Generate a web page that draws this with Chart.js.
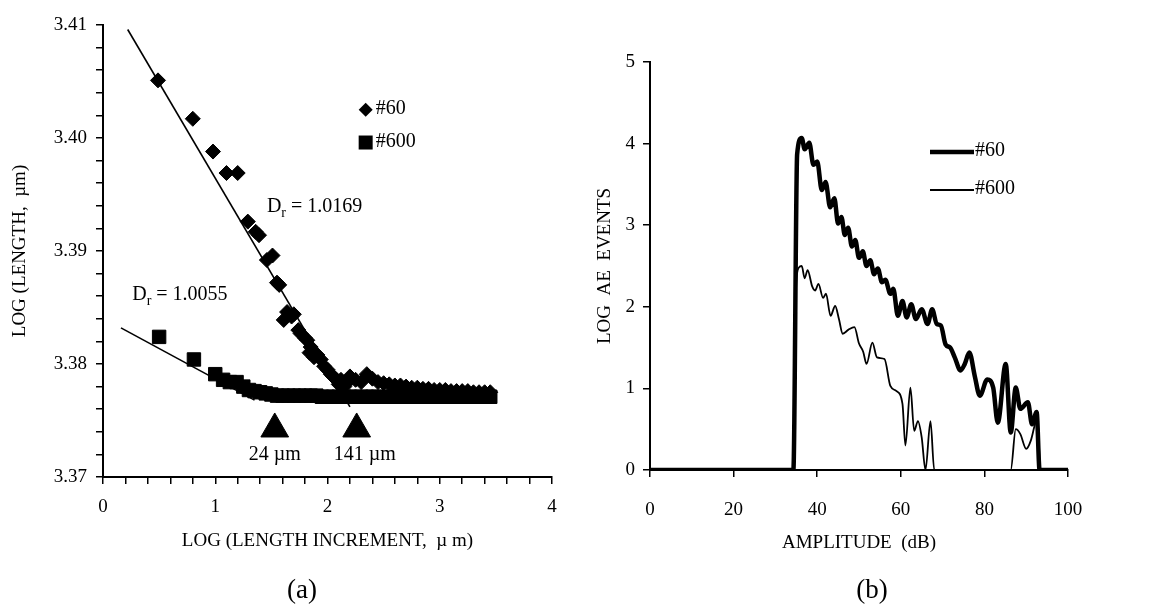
<!DOCTYPE html>
<html>
<head>
<meta charset="utf-8">
<title>Length fractal and AE amplitude</title>
<script src="https://cdn.jsdelivr.net/npm/chart.js@4.4.1/dist/chart.umd.min.js"></script>
<style>
  html, body { margin: 0; padding: 0; background: #fff; }
  #wrap { position: relative; width: 1149px; height: 605px; }
  canvas { position: absolute; top: 0; }
  #chartA { left: 0; }
  #chartB { left: 575px; }
</style>
</head>
<body>
<div id="wrap">
  <canvas id="chartA" width="575" height="605"></canvas>
  <canvas id="chartB" width="574" height="605"></canvas>
</div>
<script>
// ---- (a) LOG(LENGTH) vs LOG(LENGTH INCREMENT) ----
var incr60 = [0.49, 0.80, 0.98, 1.10, 1.20, 1.29, 1.36, 1.39, 1.46, 1.51, 1.55, 1.57, 1.61, 1.64, 1.68, 1.70,
    1.74, 1.76, 1.80, 1.82, 1.84, 1.85, 1.88, 1.91, 1.94, 1.97, 2.00, 2.03, 2.05, 2.08, 2.10, 2.12, 2.15,
    2.18, 2.20, 2.25, 2.30, 2.35, 2.40, 2.45, 2.50, 2.55, 2.60, 2.65, 2.70, 2.75, 2.80, 2.85, 2.90, 2.95,
    3.00, 3.05, 3.10, 3.15, 3.20, 3.25, 3.30, 3.35, 3.40, 3.45];
var len60 = [3.4051, 3.4017, 3.3988, 3.3969, 3.3969, 3.3926, 3.3917, 3.3914, 3.3892, 3.3896, 3.3872, 3.3870,
    3.3839, 3.3846, 3.3842, 3.3844, 3.3830, 3.3827, 3.3823, 3.3821, 3.3810, 3.3815, 3.3806, 3.3808, 3.3804,
    3.3798, 3.3795, 3.3791, 3.3789, 3.3786, 3.3782, 3.3786, 3.3780, 3.3784, 3.3789, 3.3786, 3.3784, 3.3791,
    3.3787, 3.3784, 3.3783, 3.3782, 3.3781, 3.3781, 3.3780, 3.3779, 3.3779, 3.3778, 3.3778, 3.3777, 3.3777,
    3.3777, 3.3776, 3.3776, 3.3776, 3.3776, 3.3775, 3.3775, 3.3775, 3.3775];

var incr600 = [0.50, 0.81, 1.00, 1.07, 1.13, 1.19, 1.25, 1.30, 1.35, 1.40, 1.45, 1.50, 1.55, 1.60, 1.65, 1.70,
    1.75, 1.80, 1.85, 1.90, 1.95, 2.00, 2.05, 2.10, 2.15, 2.20, 2.25, 2.30, 2.35, 2.40, 2.45, 2.50, 2.55,
    2.60, 2.65, 2.70, 2.75, 2.80, 2.85, 2.90, 2.95, 3.00, 3.05, 3.10, 3.15, 3.20, 3.25, 3.30, 3.35, 3.40, 3.45];
var len600 = [3.3824, 3.3804, 3.3791, 3.3786, 3.3784, 3.3784, 3.3780, 3.3777, 3.3776, 3.3775, 3.3774, 3.3773,
    3.3772, 3.3772, 3.3772, 3.3772, 3.3772, 3.3772, 3.3772, 3.3772, 3.3771, 3.3771, 3.3771, 3.3771, 3.3771,
    3.3771, 3.3771, 3.3771, 3.3771, 3.3771, 3.3771, 3.3771, 3.3771, 3.3771, 3.3771, 3.3771, 3.3771, 3.3771,
    3.3771, 3.3771, 3.3771, 3.3771, 3.3771, 3.3771, 3.3771, 3.3771, 3.3771, 3.3771, 3.3771, 3.3771, 3.3771];

// fitted lines (end points)
var fit60X = [0.22, 2.20];
var fit60Y = [3.4096, 3.3762];
var fit600X = [0.16, 1.35];
var fit600Y = [3.3832, 3.3768];

// arrow heads marking the transition increments
var markX = [1.53, 2.26];
var markY = [3.37425, 3.37425];
var markLabels = ['24 µm', '141 µm'];

var xLabelsA = [0, 1, 2, 3, 4];
var yLabelsA = [3.37, 3.38, 3.39, 3.40, 3.41];

// ---- (b) LOG AE EVENTS vs AMPLITUDE ----
var amp60 = [0, 10, 20, 30, 34.3, 35.2, 36.3, 37.0, 38.1, 39.1, 40.0, 41.1, 42.0, 43.1, 44.1, 45.0, 45.8, 46.6,
    47.4, 48.3, 49.1, 50.0, 50.9, 51.8, 52.7, 53.6, 54.5, 55.5, 56.3, 57.5, 58.2, 59.3, 60.4, 61.4, 62.5,
    63.6, 65.0, 66.4, 67.5, 68.6, 69.6, 70.7, 71.8, 72.9, 74.3, 75.3, 76.4, 77.7, 78.9, 80.7, 82.1, 83.2,
    85.1, 86.3, 87.5, 88.6, 90.4, 91.4, 92.5, 93.2, 100];
var ae60 = [0, 0, 0, 0, 0, 3.87, 4.07, 3.93, 4.01, 3.74, 3.78, 3.43, 3.53, 3.22, 3.33, 3.02, 3.10, 2.88,
    2.97, 2.74, 2.82, 2.60, 2.68, 2.50, 2.57, 2.40, 2.47, 2.30, 2.33, 2.16, 2.22, 1.89, 2.07, 1.87, 2.03,
    1.85, 1.97, 1.79, 1.97, 1.79, 1.77, 1.54, 1.50, 1.38, 1.22, 1.30, 1.44, 1.15, 0.91, 1.11, 1.01, 0.58,
    1.30, 0.46, 1.01, 0.75, 0.83, 0.56, 0.71, 0, 0];

var amp600 = [0, 10, 20, 30, 34.3, 35.0, 35.6, 36.3, 37.0, 37.7, 38.8, 39.5, 40.3, 41.4, 42.1, 43.2, 44.3,
    45.2, 46.1, 47.5, 48.9, 50.0, 51.0, 51.8, 53.2, 54.3, 56.1, 57.5, 58.9, 60.4, 61.1, 62.3, 63.2, 64.1,
    65.0, 65.9, 67.1, 68.0, 75, 80, 86.3, 87.5, 88.6, 90.0, 91.1, 92.1, 92.7, 93.4, 100];
var ae600 = [0, 0, 0, 0, 0, 2.30, 2.48, 2.50, 2.35, 2.45, 2.25, 2.20, 2.28, 2.11, 2.16, 1.89, 2.01,
    1.85, 1.67, 1.72, 1.75, 1.55, 1.45, 1.30, 1.56, 1.38, 1.36, 1.03, 0.97, 0.81, 0.30, 1.01, 0.48, 0.60,
    0.40, 0, 0.60, 0, 0, 0, 0, 0.50, 0.44, 0.26, 0.36, 0.56, 0.64, 0, 0];

var xLabelsB = [0, 20, 40, 60, 80, 100];
var yLabelsB = [0, 1, 2, 3, 4, 5];

var SERIF = "'Liberation Serif', 'Times New Roman', serif";

function pts(xs, ys) {
    return xs.map(function (x, i) { return {x: x, y: ys[i]}; });
}

function labelIn(list, digits) {
    return function (value) {
        for (var i = 0; i < list.length; i++) {
            if (Math.abs(list[i] - value) < 1e-7) return list[i].toFixed(digits);
        }
        return '';
    };
}

function axis(extra) {
    var base = {
        type: 'linear',
        grid: {drawOnChartArea: false, drawTicks: true, tickLength: 7, color: '#000', lineWidth: 1.5},
        border: {display: true, color: '#000', width: 2},
        ticks: {color: '#000', font: {family: SERIF, size: 19}, autoSkip: false, maxRotation: 0}
    };
    for (var k in extra) {
        if (k === 'ticks') {
            for (var t in extra.ticks) base.ticks[t] = extra.ticks[t];
        } else {
            base[k] = extra[k];
        }
    }
    return base;
}

function text(ctx, s, x, y, size, align, rot) {
    ctx.save();
    ctx.fillStyle = '#000';
    ctx.font = size + 'px ' + SERIF;
    ctx.textAlign = align || 'center';
    ctx.textBaseline = 'middle';
    ctx.translate(x, y);
    if (rot) ctx.rotate(rot);
    ctx.fillText(s, 0, 0);
    ctx.restore();
}

function drawDr(ctx, x, y, value) {
    ctx.save();
    ctx.fillStyle = '#000';
    ctx.textAlign = 'left';
    ctx.textBaseline = 'middle';
    ctx.font = '20px ' + SERIF;
    ctx.fillText('D', x, y);
    var w = ctx.measureText('D').width;
    ctx.font = '14px ' + SERIF;
    ctx.fillText('r', x + w, y + 6);
    var w2 = ctx.measureText('r').width;
    ctx.font = '20px ' + SERIF;
    ctx.fillText(' = ' + value, x + w + w2, y);
    ctx.restore();
}

var notesA = {
    id: 'notesA',
    afterDraw: function (chart) {
        var ctx = chart.ctx, sx = chart.scales.x, sy = chart.scales.y;
        text(ctx, 'LOG (LENGTH,  µm)', 20, (chart.chartArea.top + chart.chartArea.bottom) / 2, 19, 'center', -Math.PI / 2);
        text(ctx, 'LOG (LENGTH INCREMENT,  µ m)', (chart.chartArea.left + chart.chartArea.right) / 2, 541, 19);
        text(ctx, '(a)', 302, 591, 27);

        for (var i = 0; i < markX.length; i++) {
            text(ctx, markLabels[i], sx.getPixelForValue(markX[i]) + (i ? 8 : 0), 455, 20);
        }
        drawDr(ctx, sx.getPixelForValue(1.46), sy.getPixelForValue(3.3939), '1.0169');
        drawDr(ctx, sx.getPixelForValue(0.26), sy.getPixelForValue(3.3861), '1.0055');

        // legend
        var lx = sx.getPixelForValue(2.34);
        var ly1 = sy.getPixelForValue(3.4025), ly2 = sy.getPixelForValue(3.3996);
        ctx.save();
        ctx.fillStyle = '#000';
        ctx.beginPath();
        ctx.moveTo(lx, ly1 - 7); ctx.lineTo(lx + 7, ly1); ctx.lineTo(lx, ly1 + 7); ctx.lineTo(lx - 7, ly1);
        ctx.closePath();
        ctx.fill();
        ctx.fillRect(lx - 7, ly2 - 7, 14, 14);
        ctx.restore();
        text(ctx, '#60', lx + 10, ly1 - 1, 20, 'left');
        text(ctx, '#600', lx + 10, ly2 - 1, 20, 'left');
    }
};

var notesB = {
    id: 'notesB',
    afterDraw: function (chart) {
        var ctx = chart.ctx, a = chart.chartArea;
        text(ctx, 'LOG  AE  EVENTS', 30, (a.top + a.bottom) / 2, 19, 'center', -Math.PI / 2);
        text(ctx, 'AMPLITUDE  (dB)', (a.left + a.right) / 2, 543, 19);
        text(ctx, '(b)', 297, 591, 27);

        // legend
        ctx.save();
        ctx.strokeStyle = '#000';
        ctx.lineCap = 'butt';
        ctx.lineWidth = 4.5;
        ctx.beginPath(); ctx.moveTo(355, 152); ctx.lineTo(399, 152); ctx.stroke();
        ctx.lineWidth = 1.8;
        ctx.beginPath(); ctx.moveTo(355, 190); ctx.lineTo(399, 190); ctx.stroke();
        ctx.restore();
        text(ctx, '#60', 400, 151, 20, 'left');
        text(ctx, '#600', 400, 189, 20, 'left');
    }
};

new Chart(document.getElementById('chartA'), {
    type: 'scatter',
    data: {
        datasets: [
            {label: '#60', data: pts(incr60, len60), pointStyle: 'rectRot', pointRadius: 7.5,
                backgroundColor: '#000', borderColor: '#000', borderWidth: 1},
            {label: '#600', data: pts(incr600, len600), pointStyle: 'rect', pointRadius: 9.5,
                backgroundColor: '#000', borderColor: '#000', borderWidth: 1},
            {label: 'fit #60', data: pts(fit60X, fit60Y), showLine: true, pointRadius: 0,
                borderColor: '#000', borderWidth: 1.6},
            {label: 'fit #600', data: pts(fit600X, fit600Y), showLine: true, pointRadius: 0,
                borderColor: '#000', borderWidth: 1.6},
            {label: 'marks', data: pts(markX, markY), pointStyle: 'triangle', pointRadius: 16,
                backgroundColor: '#000', borderColor: '#000', borderWidth: 1}
        ]
    },
    options: {
        responsive: false,
        animation: false,
        layout: {padding: {left: 0, top: 25, right: 23, bottom: 0}},
        plugins: {legend: {display: false}, tooltip: {enabled: false}},
        scales: {
            x: axis({min: 0, max: 4, afterFit: function (s) { s.height = 128; },
                ticks: {stepSize: 0.2, padding: 12, callback: labelIn(xLabelsA, 0)}}),
            y: axis({min: 3.37, max: 3.41, afterFit: function (s) { s.width = 103; },
                ticks: {stepSize: 0.002, padding: 9, callback: labelIn(yLabelsA, 2)}})
        }
    },
    plugins: [notesA]
});

new Chart(document.getElementById('chartB'), {
    type: 'line',
    data: {
        datasets: [
            {label: '#60', data: pts(amp60, ae60), borderColor: '#000', borderWidth: 4.5,
                pointRadius: 0, cubicInterpolationMode: 'monotone', borderJoinStyle: 'round'},
            {label: '#600', data: pts(amp600, ae600), borderColor: '#000', borderWidth: 1.8,
                pointRadius: 0, cubicInterpolationMode: 'monotone', borderJoinStyle: 'round'}
        ]
    },
    options: {
        responsive: false,
        animation: false,
        layout: {padding: {left: 0, top: 62, right: 81, bottom: 0}},
        plugins: {legend: {display: false}, tooltip: {enabled: false}},
        scales: {
            x: axis({min: 0, max: 100, afterFit: function (s) { s.height = 135; },
                ticks: {stepSize: 20, padding: 22, callback: labelIn(xLabelsB, 0)}}),
            y: axis({min: 0, max: 5, afterFit: function (s) { s.width = 75; },
                ticks: {stepSize: 1, padding: 8, callback: labelIn(yLabelsB, 0)}})
        }
    },
    plugins: [notesB]
});
</script>
</body>
</html>
